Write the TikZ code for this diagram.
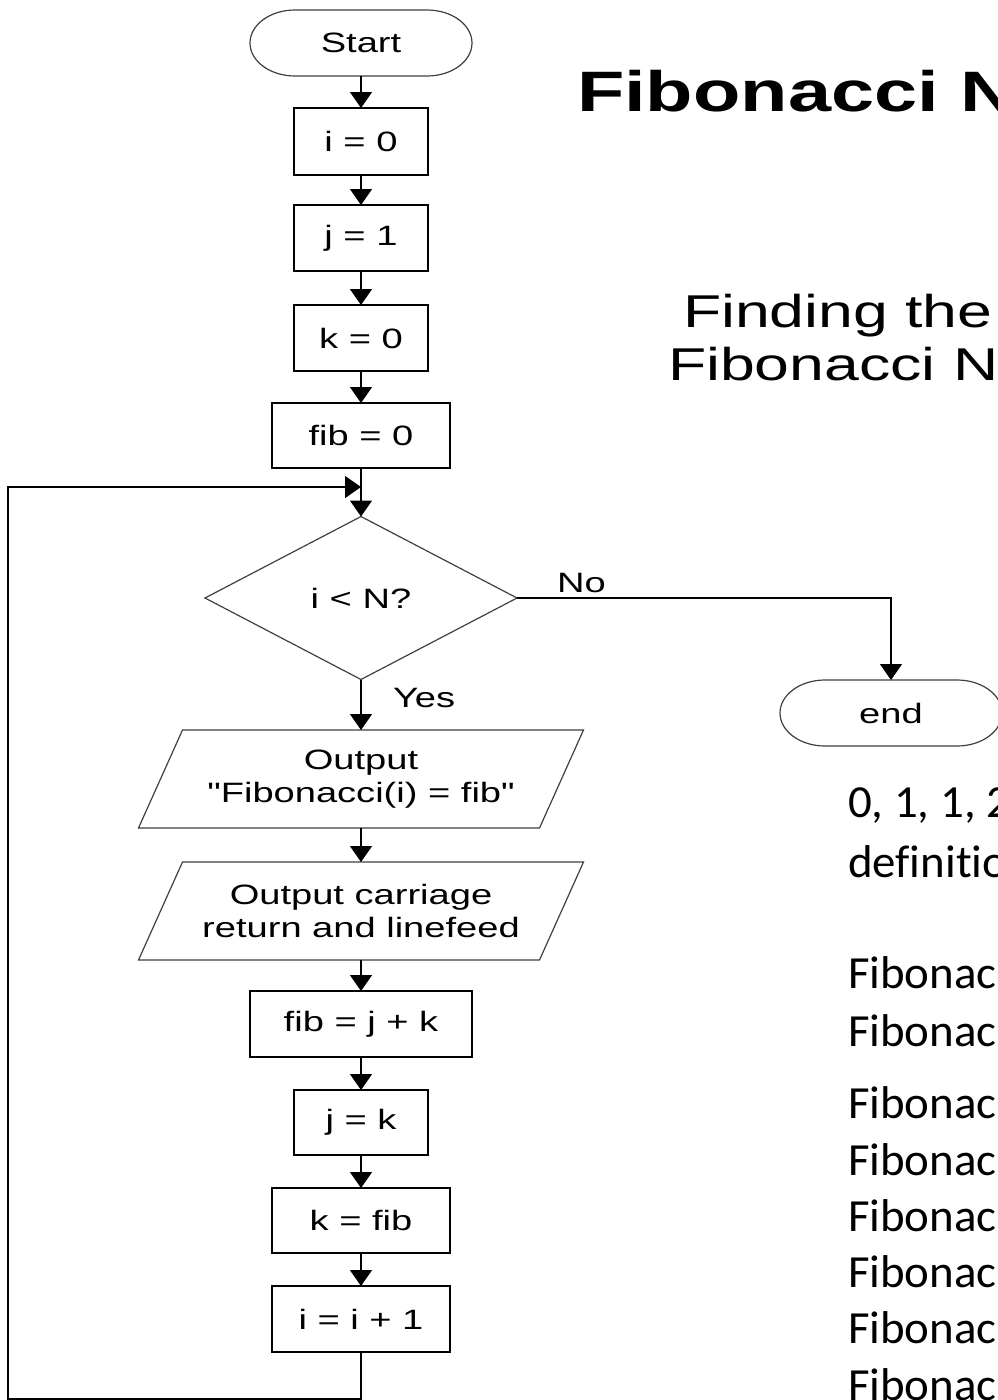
\documentclass[tikz,border=0pt]{standalone}
\usepackage{fontspec}
\usetikzlibrary{arrows.meta}
\newfontfamily\fa{Liberation Sans}[FakeStretch=1.36]
\newfontfamily\fc{Carlito}[FakeStretch=1.02,Ligatures=NoCommon]
\begin{document}
\begin{tikzpicture}[x=1pt,y=-1pt,
  every node/.style={inner sep=0pt, outer sep=0pt},
  ftext/.style={font=\fa\fontsize{28}{33}\selectfont, align=center},
  procbox/.style={ftext, draw=black, line width=1.3pt, minimum height=66pt},
  termnode/.style={ftext, minimum width=222pt, minimum height=66pt},
  outline/.style={draw=black!75, line width=1.2pt},
  flow/.style={line width=1.4pt, -{Triangle[width=22pt,length=16pt]}},
  caltext/.style={font=\fc\fontsize{46}{56}\selectfont, anchor=base west},
]
\useasboundingbox (0,0) rectangle (998,1400);
\fill[white] (0,0) rectangle (998,1400);
\clip (0,0) rectangle (998,1400);

% terminators
\node[termnode] (start) at (361,43) {Start};
\draw[outline] ([xshift=45pt]start.north west) -- ([xshift=-45pt]start.north east)
  arc[start angle=90,end angle=-90,x radius=45pt,y radius=33pt]
  -- ([xshift=45pt]start.south west)
  arc[start angle=270,end angle=90,x radius=45pt,y radius=33pt] -- cycle;
\node[termnode] (end) at (891,713) {end};
\draw[outline] ([xshift=45pt]end.north west) -- ([xshift=-45pt]end.north east)
  arc[start angle=90,end angle=-90,x radius=45pt,y radius=33pt]
  -- ([xshift=45pt]end.south west)
  arc[start angle=270,end angle=90,x radius=45pt,y radius=33pt] -- cycle;

% process boxes
\node[procbox, minimum width=134pt, minimum height=67pt] (i0) at (361,141.5) {i = 0};
\node[procbox, minimum width=134pt] (j1) at (361,238) {j = 1};
\node[procbox, minimum width=134pt] (k0) at (361,338) {k = 0};
\node[procbox, minimum width=178pt, minimum height=65pt] (fib0) at (361,435.5) {fib = 0};

% decision
\node[ftext, minimum width=312pt, minimum height=163pt] (dec) at (361,598) {i < N?};
\draw[outline] (dec.north) -- (dec.east) -- (dec.south) -- (dec.west) -- cycle;

% outputs
\node[ftext, minimum width=445pt, minimum height=98pt] (out1) at (361,779) {Output\\"Fibonacci(i) = fib"};
\draw[outline] ([xshift=44pt]out1.north west) -- (out1.north east)
  -- ([xshift=-44pt]out1.south east) -- (out1.south west) -- cycle;
\node[ftext, minimum width=445pt, minimum height=98pt] (out2) at (361,911) {Output carriage\\return and linefeed};
\draw[outline] ([xshift=44pt]out2.north west) -- (out2.north east)
  -- ([xshift=-44pt]out2.south east) -- (out2.south west) -- cycle;

\node[procbox, minimum width=222pt] (fibjk) at (361,1024) {fib = j + k};
\node[procbox, minimum width=134pt, minimum height=65pt] (jk) at (361,1122.5) {j = k};
\node[procbox, minimum width=178pt, minimum height=65pt] (kfib) at (361,1220.5) {k = fib};
\node[procbox, minimum width=178pt] (ii1) at (361,1319) {i = i + 1};

% labels
\node[ftext, anchor=base west] (nolbl) at (557,592) {No};
\node[ftext, anchor=base west] (yeslbl) at (393,707) {Yes};

% connectors
\draw[flow] (start) -- (i0);
\draw[flow] (i0) -- (j1);
\draw[flow] (j1) -- (k0);
\draw[flow] (k0) -- (fib0);
\draw[flow] (fib0) -- (dec);
\draw[flow] (dec) -- (out1);
\draw[flow] (out1) -- (out2);
\draw[flow] (out2) -- (fibjk);
\draw[flow] (fibjk) -- (jk);
\draw[flow] (jk) -- (kfib);
\draw[flow] (kfib) -- (ii1);
\draw[flow] (dec.east) -| (end.north);
\coordinate (loopbl) at (8,1399);
\coordinate (looptl) at (8,487);
\coordinate (merge) at (361,487);
\draw[flow] (ii1.south) |- (loopbl) -- (looptl) -- (merge);

% right-hand texts
\node[font=\fa\bfseries\fontsize{57}{62}\selectfont, anchor=base west] (title) at (577,111) {Fibonacci N};
\node[font=\fa\fontsize{46}{53}\selectfont, anchor=base west] (sub1) at (683,327) {Finding the};
\node[font=\fa\fontsize{46}{53}\selectfont, anchor=base west] (sub2) at (668,380) {Fibonacci N};
\node[caltext] (seq) at (848,817) {0, 1, 1, 2};
\node[caltext] (defn) at (848,877) {definitio};
\foreach \k/\yy in {1/988,2/1046,3/1118,4/1175,5/1231,6/1287,7/1343,8/1400}
  \node[caltext] (fibl\k) at (848,\yy) {Fibonac};
\end{tikzpicture}
\end{document}
